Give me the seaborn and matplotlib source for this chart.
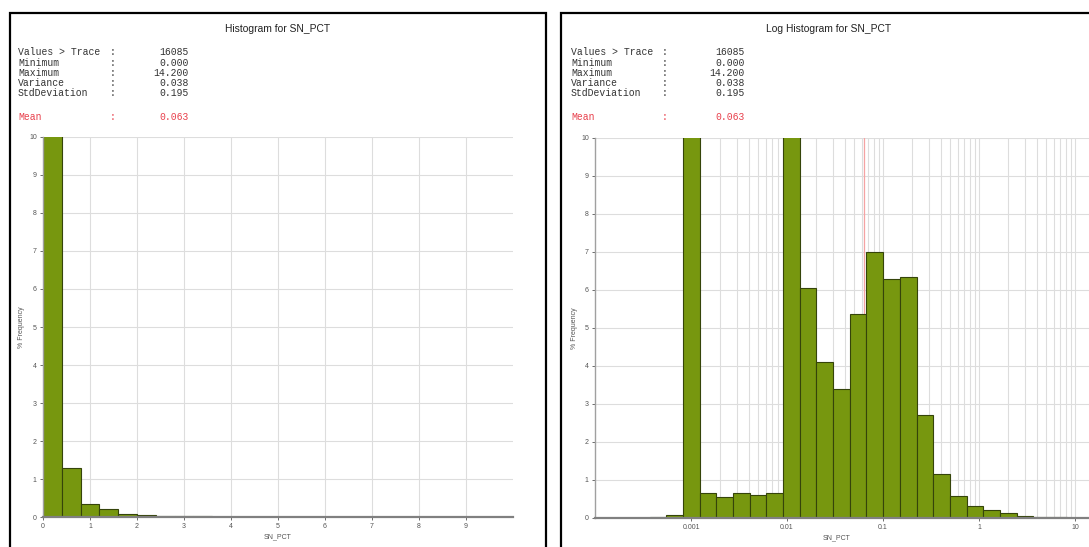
import numpy as np
import pandas as pd
import matplotlib
matplotlib.use("Agg")
import matplotlib.pyplot as plt
import seaborn as sns
from matplotlib.patches import Rectangle
from matplotlib.ticker import FixedLocator, FixedFormatter, NullFormatter

# ---------------- data ----------------
variable = "SN_PCT"
lin_bin_width = 0.4
lin_pct = [97.7, 1.30, 0.33, 0.22, 0.08, 0.06, 0.03, 0.02, 0.015, 0.01, 0.006, 0.004]

ln_bin_start = -9.1
ln_bin_width = 0.4
log_pct = [0.01, 0.0, 0.0, 0.03, 0.07, 21.0, 0.65, 0.56, 0.67, 0.60, 0.67, 31.9,
           6.04, 4.10, 3.39, 5.37, 6.99, 6.29, 6.34, 2.70, 1.17, 0.57, 0.32, 0.22,
           0.12, 0.05, 0.03, 0.02, 0.01]

stat_labels = ["Values > Trace", "Minimum", "Maximum", "Variance", "StdDeviation"]
stat_values = ["16085", "0.000", "14.200", "0.038", "0.195"]
mean_label = "Mean"
mean_value = 0.063

lin_xticks = list(range(0, 10))
log_major = [0.001, 0.01, 0.1, 1, 10]
log_major_labels = ["0.001", "0.01", "0.1", "1", "10"]
y_ticks = list(range(0, 11))

# ---------------- style ----------------
W, H = 1089, 547
sns.set_theme(style="white")
plt.rcParams['font.family'] = ['Liberation Sans', 'DejaVu Sans']

FACE = "#77970f"
EDGE = "#35440a"
GRID = "#dddddd"
TICKC = "#555555"
RED = "#e8404c"

fig = plt.figure(figsize=(W / 100, H / 100), dpi=100)
fig.patch.set_facecolor("white")


def rect(x0, y0, x1, y1):
    return [x0 / W, 1 - y1 / H, (x1 - x0) / W, (y1 - y0) / H]


def style_axis(ax):
    ax.set_facecolor("white")
    for s in ["top", "right"]:
        ax.spines[s].set_visible(False)
    ax.spines["left"].set_color("#a0a0a0")
    ax.spines["left"].set_linewidth(1.0)
    ax.spines["bottom"].set_color("#808080")
    ax.spines["bottom"].set_linewidth(1.6)
    ax.tick_params(axis="both", which="major", labelsize=5, colors=TICKC,
                   length=2.5, width=0.6, pad=2, left=True, bottom=True)
    ax.set_axisbelow(True)
    ax.set_ylim(0, 10)
    ax.set_yticks(y_ticks)
    ax.set_ylabel("% Frequency", fontsize=5, color=TICKC)
    ax.set_xlabel(variable, fontsize=5, color=TICKC)


# ---------- left: linear histogram ----------
ax1 = fig.add_axes(rect(43, 137, 513, 517))
n_lin = len(lin_pct)
lin_lo = np.arange(n_lin) * lin_bin_width
lin_df = pd.DataFrame({"x": lin_lo + lin_bin_width / 2, "pct": lin_pct})
sns.histplot(data=lin_df, x="x", weights="pct", binwidth=lin_bin_width,
             binrange=(0.0, n_lin * lin_bin_width), ax=ax1,
             color=FACE, edgecolor=EDGE, linewidth=0.8, alpha=1.0)
style_axis(ax1)
ax1.set_xlim(0, 10)
ax1.set_xticks(lin_xticks)
ax1.grid(True, color=GRID, linewidth=0.8)
ax1.yaxis.set_label_coords(-0.038, 0.5)
ax1.xaxis.set_label_coords(0.5, -0.042)

# ---------- right: log histogram (bins of 0.4 in natural log) ----------
ax2 = fig.add_axes(rect(595, 138, 1089, 518))
n_log = len(log_pct)
LN10 = np.log(10)
ln_lo = ln_bin_start + np.arange(n_log) * ln_bin_width
log_df = pd.DataFrame({"x": np.exp(ln_lo + ln_bin_width / 2), "pct": log_pct})
sns.histplot(data=log_df, x="x", weights="pct", log_scale=True,
             binwidth=ln_bin_width / LN10,
             binrange=(ln_bin_start / LN10, (ln_bin_start + n_log * ln_bin_width) / LN10),
             ax=ax2, color=FACE, edgecolor=EDGE, linewidth=0.8, alpha=1.0)
style_axis(ax2)
ax2.set_xlim(1.0e-4, 10 ** 1.145)
ax2.xaxis.set_major_locator(FixedLocator(log_major))
ax2.xaxis.set_major_formatter(FixedFormatter(log_major_labels))
minor = [m * d for d in log_major for m in range(2, 10)]
ax2.xaxis.set_minor_locator(FixedLocator(minor))
ax2.xaxis.set_minor_formatter(NullFormatter())
ax2.tick_params(axis="x", which="minor", length=0)
ax2.grid(True, which="both", axis="x", color=GRID, linewidth=0.8)
ax2.grid(True, which="major", axis="y", color=GRID, linewidth=0.8)
ax2.axvline(mean_value, color="#f5a3a3", linewidth=0.9, zorder=0.8)
ax2.yaxis.set_label_coords(-0.034, 0.5)
ax2.xaxis.set_label_coords(0.49, -0.042)

# ---------- panel borders ----------
for x0, x1 in [(10, 546), (561, 1097)]:
    fig.add_artist(Rectangle((x0 / W, -0.05), (x1 - x0) / W, 1 - 13 / H + 0.05,
                             transform=fig.transFigure, fill=False,
                             edgecolor="black", linewidth=1.6, zorder=10))

# ---------- titles and stats ----------
panels = [
    ("Histogram for " + variable, 278, 18, 113, 189),
    ("Log Histogram for " + variable, 829, 571, 665, 745),
]
row_y = [52.3, 62.5, 72.7, 82.9, 93.1]
mean_y = 117.3
for title, cx, lx, colx, vx in panels:
    fig.text(cx / W, 1 - 29 / H, title, ha="center", va="center",
             fontsize=7.4, color="#222222")
    for lab, val, y in zip(stat_labels, stat_values, row_y):
        kw = dict(va="center", fontsize=7, color="#333333", family="Liberation Mono")
        fig.text(lx / W, 1 - y / H, lab, ha="left", **kw)
        fig.text(colx / W, 1 - y / H, ":", ha="center", **kw)
        fig.text(vx / W, 1 - y / H, val, ha="right", **kw)
    kw = dict(va="center", fontsize=7, color=RED, family="Liberation Mono")
    fig.text(lx / W, 1 - mean_y / H, mean_label, ha="left", **kw)
    fig.text(colx / W, 1 - mean_y / H, ":", ha="center", **kw)
    fig.text(vx / W, 1 - mean_y / H, f"{mean_value:.3f}", ha="right", **kw)

fig.savefig("out.png", dpi=100, facecolor="white")
